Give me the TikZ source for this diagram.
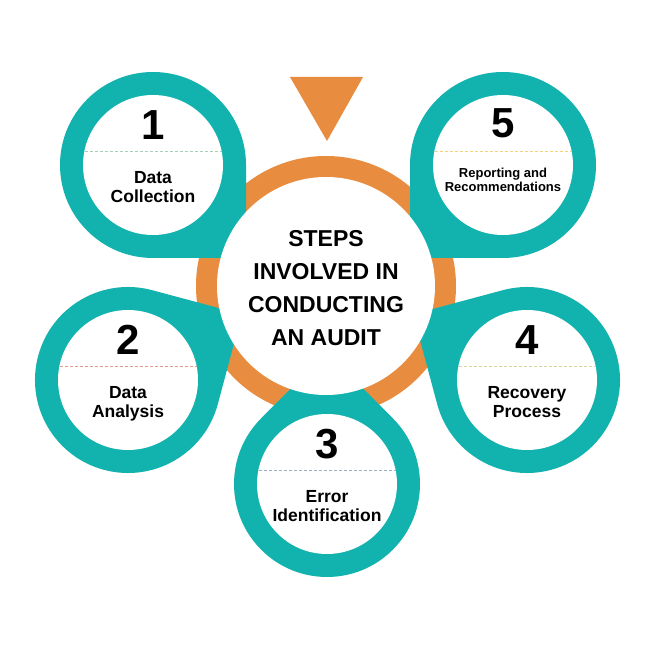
\documentclass[tikz,border=0pt]{standalone}
\usepackage{fontspec}
\setmainfont{Liberation Sans}
\usetikzlibrary{calc}
\definecolor{tealc}{HTML}{12B2AE}
\definecolor{orangec}{HTML}{E88D3F}
\definecolor{dashA}{HTML}{A8CDB8}
\definecolor{dashB}{HTML}{E39A8A}
\definecolor{dashC}{HTML}{9AB0C4}
\definecolor{dashD}{HTML}{D4D49A}
\definecolor{dashE}{HTML}{F2D27A}
\tikzset{
  numtext/.style={font=\bfseries\fontsize{42}{42}\selectfont, inner sep=0pt, anchor=base},
  labtext/.style={font=\bfseries\fontsize{17.5}{19}\selectfont, inner sep=0pt, anchor=base},
  smalllab/.style={font=\bfseries\fontsize{13}{14}\selectfont, inner sep=0pt, anchor=base},
  centertext/.style={font=\bfseries\fontsize{23}{33}\selectfont, align=center, inner sep=0pt},
  sepline/.style={dash pattern=on 3pt off 2pt, line width=0.8pt}
}
\newcommand\petalshape[2]{%
  \fill[tealc] ([shift={({#2+45}:93)}]#1) arc[start angle={#2+45}, delta angle=270, radius=93]
    -- ([shift={({#2}:131.52)}]#1) -- cycle;}
\newcommand\sepdash[2]{%
  \draw[sepline,#2] ([shift={(-68.5,14)}]#1) -- ([shift={(68.5,14)}]#1);}
\begin{document}
\begin{tikzpicture}[x=1pt,y=1pt]
\fill[white] (0,0) rectangle (657,657);
\useasboundingbox (0,0) rectangle (657,657);
\coordinate (o) at (326,371);
\coordinate (p1) at (153,492);
\coordinate (p5) at (503,492);
\coordinate (p2) at (128,277);
\coordinate (p4) at (527,277);
\coordinate (p3) at (327,173);
% orange ring
\fill[orangec] (o) circle[radius=130];
% petals
\petalshape{p1}{-45}
\petalshape{p5}{-135}
\petalshape{p2}{30}
\petalshape{p4}{150}
\petalshape{p3}{90}
% centre
\fill[white] (o) circle[radius=109];
\node[centertext] (title) at (326,369) {STEPS\\INVOLVED IN\\CONDUCTING\\AN AUDIT};
% inner circles
\foreach \p in {p1,p2,p3,p4,p5} {\fill[white] (\p) circle[radius=70];}
% triangle
\coordinate (t1) at (290,580);
\coordinate (t2) at (363,580);
\coordinate (t3) at (327,516);
\fill[orangec] (t1) -- (t2) -- (t3) -- cycle;
% petal 1
\node[numtext] (n1) at ([yshift=25pt]p1) {1};
\sepdash{p1}{dashA}
\node[labtext] (a1) at ([yshift=-18.5pt]p1) {Data};
\node[labtext] (b1) at ([yshift=-37.5pt]p1) {Collection};
% petal 2
\node[numtext] (n2) at ([yshift=25pt]p2) {2};
\sepdash{p2}{dashB}
\node[labtext] (a2) at ([yshift=-18.5pt]p2) {Data};
\node[labtext] (b2) at ([yshift=-37.5pt]p2) {Analysis};
% petal 3
\node[numtext] (n3) at ([yshift=25pt]p3) {3};
\sepdash{p3}{dashC}
\node[labtext] (a3) at ([yshift=-18.5pt]p3) {Error};
\node[labtext] (b3) at ([yshift=-37.5pt]p3) {Identification};
% petal 4
\node[numtext] (n4) at ([yshift=25pt]p4) {4};
\sepdash{p4}{dashD}
\node[labtext] (a4) at ([yshift=-18.5pt]p4) {Recovery};
\node[labtext] (b4) at ([yshift=-37.5pt]p4) {Process};
% petal 5
\node[numtext] (n5) at ([yshift=27pt]p5) {5};
\sepdash{p5}{dashE}
\node[smalllab] (a5) at ([yshift=-13pt]p5) {Reporting and};
\node[smalllab] (b5) at ([yshift=-27pt]p5) {Recommendations};
\end{tikzpicture}
\end{document}
